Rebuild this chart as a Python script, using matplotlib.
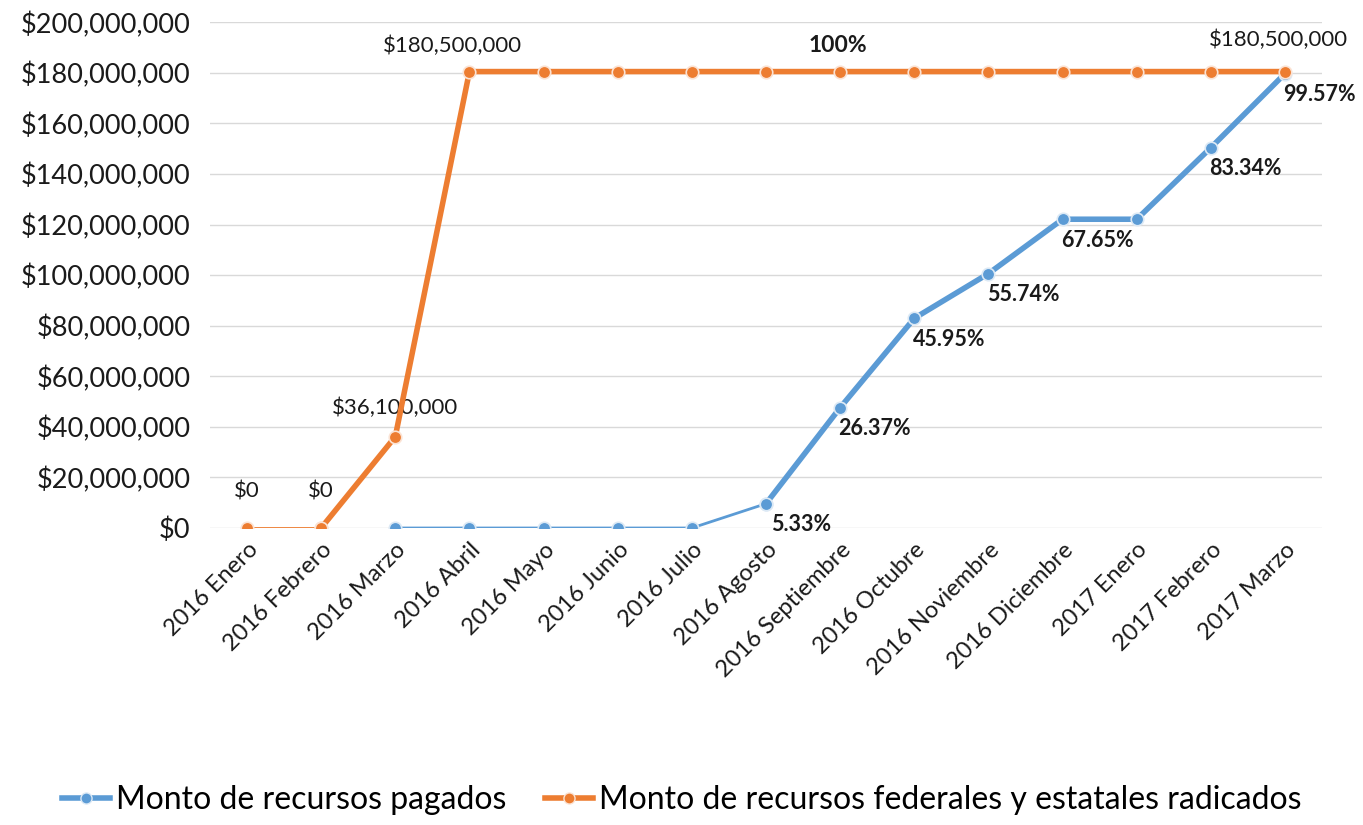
import matplotlib.pyplot as plt
from matplotlib.ticker import FuncFormatter

plt.rcParams['font.family'] = ['Lato', 'DejaVu Sans']

meses = ["2016 Enero", "2016 Febrero", "2016 Marzo", "2016 Abril", "2016 Mayo",
         "2016 Junio", "2016 Julio", "2016 Agosto", "2016 Septiembre", "2016 Octubre",
         "2016 Noviembre", "2016 Diciembre", "2017 Enero", "2017 Febrero", "2017 Marzo"]

radicado = [0, 0, 36100000] + [180500000] * 12

# porcentaje pagado a partir de 2016 Marzo
pct_pagado = [0, 0, 0, 0, 0, 5.33, 26.37, 45.95, 55.74, 67.65, 67.65, 83.34, 99.57]
pagado = [p / 100 * 180500000 for p in pct_pagado]
x_pag = list(range(2, 15))

azul = "#5B9BD5"
naranja = "#ED7D31"

fig = plt.figure(figsize=(13.63, 8.25), dpi=100)
ax = fig.add_axes([0.154, 0.36, 0.816, 0.613])

x = list(range(len(meses)))
mk = dict(marker='o', markersize=9, markeredgecolor='#fbe3d4', markeredgewidth=1.2)
mk_az = {**mk, 'markeredgecolor': '#dce9f5'}

# blue: thin while flat, thick afterwards
ax.plot(x_pag[:6], pagado[:6], color=azul, lw=2, zorder=3, **mk_az)
ax.plot(x_pag[5:], pagado[5:], color=azul, lw=4, zorder=3, **mk_az)
ax.plot(x[:2], radicado[:2], color=naranja, lw=2, zorder=4, **mk)
ax.plot(x[1:], radicado[1:], color=naranja, lw=4, zorder=4, **mk)

ax.set_xlim(-0.5, 14.5)
ax.set_ylim(0, 200000000)
ax.set_yticks(range(0, 200000001, 20000000))
ax.yaxis.set_major_formatter(FuncFormatter(lambda v, p: f"${v:,.0f}"))
ax.set_xticks(x)
ax.set_xticklabels(meses, rotation=45, ha='right', rotation_mode='anchor')
ax.tick_params(axis='x', length=0, labelsize=17, colors='#1a1a1a', pad=8)
ax.tick_params(axis='y', length=0, labelsize=19.5, colors='#1a1a1a', pad=14)
ax.grid(axis='y', color='#d9d9d9', lw=1)
ax.set_axisbelow(True)
for s in ax.spines.values():
    s.set_visible(False)

# etiquetas naranja
lab = dict(fontsize=16, color='#1a1a1a', ha='center')
ax.annotate("$0", (0, 0), xytext=(0, 22), textcoords='offset points', **lab)
ax.annotate("$0", (1, 0), xytext=(0, 22), textcoords='offset points', **lab)
ax.annotate("$36,100,000", (2, radicado[2]), xytext=(0, 16), textcoords='offset points', **lab)
ax.annotate("$180,500,000", (3, radicado[3]), xytext=(-12, 14), textcoords='offset points', **lab)
ax.annotate("$180,500,000", (14, radicado[14]), xytext=(-5, 18), textcoords='offset points', **lab)
ax.annotate("100%", (7.97, radicado[8]), xytext=(0, 14), textcoords='offset points',
            fontsize=16.5, fontweight='bold', color='#1a1a1a', ha='center')

# etiquetas azul (porcentajes), sin repetir el valor igual al anterior
prev = None
for xi, yi, p in zip(x_pag[5:], pagado[5:], pct_pagado[5:]):
    if p != prev:
        ax.annotate(f"{p:.2f}%", (xi, yi), xytext=(25, -15), textcoords='offset points',
                    fontsize=15.5, fontweight='bold', color='#1a1a1a', ha='center', va='center')
    prev = p

handles = [plt.Line2D([], [], color=azul, lw=4, marker='o', markersize=8,
                      markeredgecolor='#dce9f5'),
           plt.Line2D([], [], color=naranja, lw=4, marker='o', markersize=8,
                      markeredgecolor='#fbe3d4')]
fig.legend(handles, ["Monto de recursos pagados",
                     "Monto de recursos federales y estatales radicados"],
           loc='center', bbox_to_anchor=(0.5, 0.03), ncol=2, frameon=False,
           fontsize=23, handlelength=1.5, handletextpad=0.2, columnspacing=1.2)

fig.savefig("out.png", dpi=100, facecolor='white')
